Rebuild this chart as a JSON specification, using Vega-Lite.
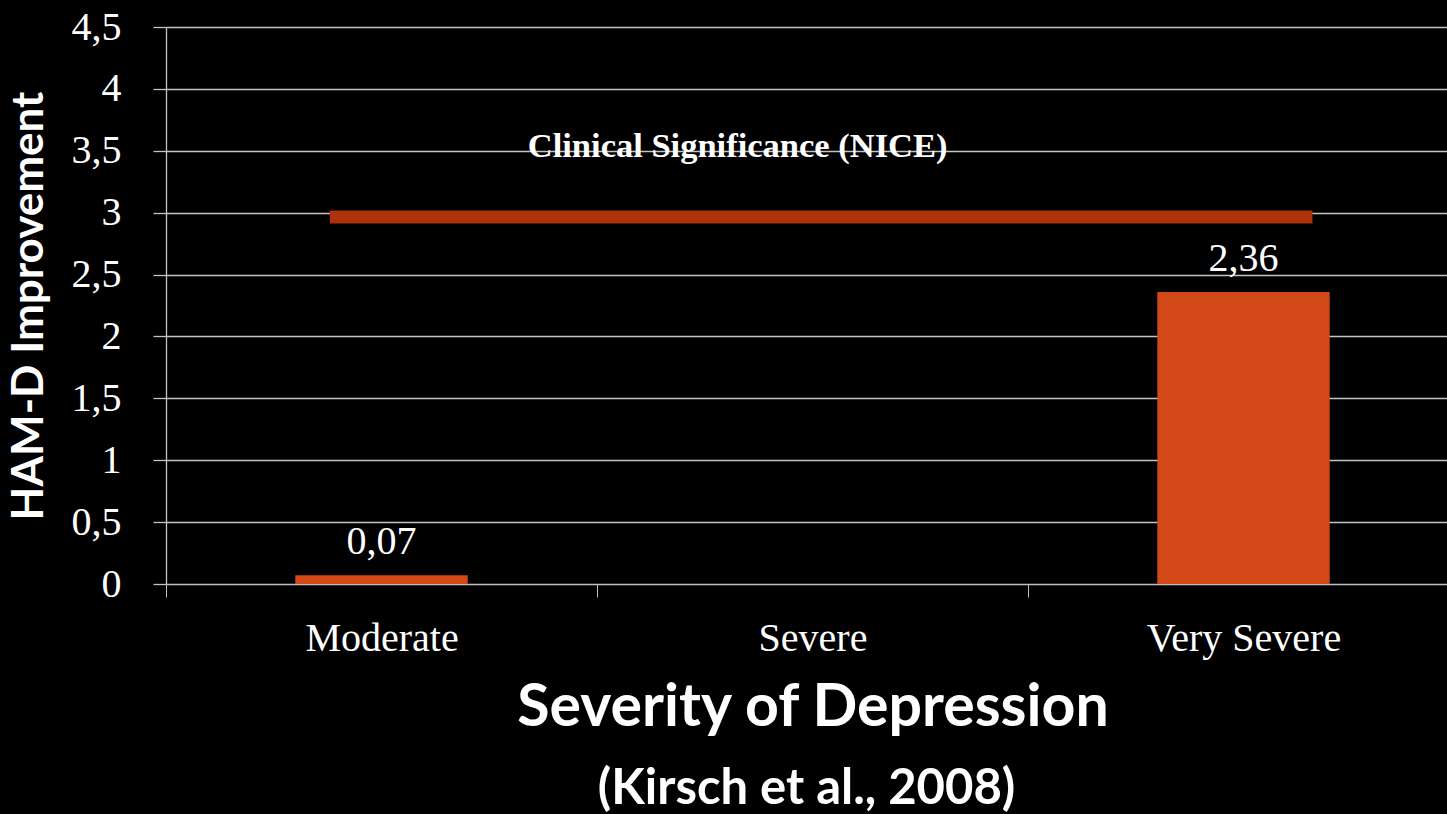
{
  "$schema": "https://vega.github.io/schema/vega-lite/v6.json",
  "width": 1281,
  "height": 557,
  "autosize": "none",
  "padding": {"left": 166, "top": 27, "right": 0, "bottom": 230},
  "background": "#000000",
  "config": {
    "view": {"stroke": null},
    "locale": {"number": {"decimal": ",", "thousands": ".", "grouping": [3], "currency": ["", " €"]}}
  },
  "title": {
    "text": "(Kirsch et al., 2008)",
    "orient": "bottom",
    "anchor": "middle",
    "font": "Lato",
    "fontWeight": "bold",
    "fontSize": 49,
    "color": "#FFFFFF",
    "offset": 28
  },
  "resolve": {"scale": {"x": "independent"}, "axis": {"x": "independent"}},
  "layer": [
    {
      "data": {"values": [
        {"severity": "Moderate", "improvement": 0.07},
        {"severity": "Very Severe", "improvement": 2.36}
      ]},
      "encoding": {
        "x": {
          "field": "severity",
          "type": "nominal",
          "sort": null,
          "scale": {"domain": ["Moderate", "Severe", "Very Severe"], "range": [0, 1293], "paddingInner": 0.6, "paddingOuter": 0.3},
          "axis": {
            "title": "Severity of Depression",
            "labelAngle": 0,
            "tickOffset": -215.5,
            "labelOffset": 215.5,
            "tickSize": 13,
            "tickColor": "#BFBFBF",
            "domainColor": "#BFBFBF",
            "labelFont": "Liberation Serif",
            "labelFontSize": 40,
            "labelColor": "#FFFFFF",
            "labelPadding": 21,
            "labelLimit": 500,
            "labelOverlap": false,
            "labelBound": false,
            "titleFont": "Lato",
            "titleFontWeight": "bold",
            "titleFontSize": 59,
            "titleColor": "#FFFFFF",
            "titlePadding": 20
          }
        },
        "y": {
          "field": "improvement",
          "type": "quantitative",
          "scale": {"domain": [0, 4.5], "nice": false},
          "axis": {
            "title": "HAM-D Improvement",
            "values": [0, 0.5, 1, 1.5, 2, 2.5, 3, 3.5, 4, 4.5],
            "format": ".1~f",
            "grid": true,
            "gridColor": "#C4C4C4",
            "gridWidth": 1.3,
            "domainColor": "#C4C4C4",
            "domainWidth": 1.3,
            "tickColor": "#C4C4C4",
            "tickWidth": 1.3,
            "tickSize": 13,
            "labelFont": "Liberation Serif",
            "labelFontSize": 40,
            "labelColor": "#FFFFFF",
            "labelPadding": 32,
            "titleFont": "Lato",
            "titleFontWeight": "bold",
            "titleFontSize": 44,
            "titleColor": "#FFFFFF",
            "titlePadding": 20
          }
        }
      },
      "layer": [
        {"mark": {"type": "bar", "color": "#D34817"}},
        {
          "mark": {"type": "text", "font": "Liberation Serif", "fontSize": 40, "color": "#FFFFFF", "baseline": "alphabetic", "dy": -21},
          "encoding": {"text": {"field": "improvement", "type": "quantitative", "format": ".2f"}}
        }
      ]
    },
    {
      "data": {"values": [
        {"label": "Clinical Significance (NICE)", "start": 0.38, "end": 2.66, "threshold": 2.965}
      ]},
      "layer": [
        {
          "mark": {"type": "rule", "color": "#AD330B", "strokeWidth": 13, "strokeCap": "butt"},
          "encoding": {
            "x": {"field": "start", "type": "quantitative", "scale": {"domain": [0, 3], "range": [0, 1293], "nice": false, "zero": false}, "axis": null},
            "x2": {"field": "end"},
            "y": {"field": "threshold", "type": "quantitative"}
          }
        },
        {
          "mark": {"type": "text", "font": "Liberation Serif", "fontWeight": "bold", "fontSize": 34.5, "color": "#FFFFFF", "align": "left", "baseline": "alphabetic", "dx": 198, "dy": -60},
          "encoding": {
            "x": {"field": "start", "type": "quantitative", "scale": {"domain": [0, 3], "range": [0, 1293], "nice": false, "zero": false}, "axis": null},
            "y": {"field": "threshold", "type": "quantitative"},
            "text": {"field": "label"}
          }
        }
      ]
    }
  ]
}
